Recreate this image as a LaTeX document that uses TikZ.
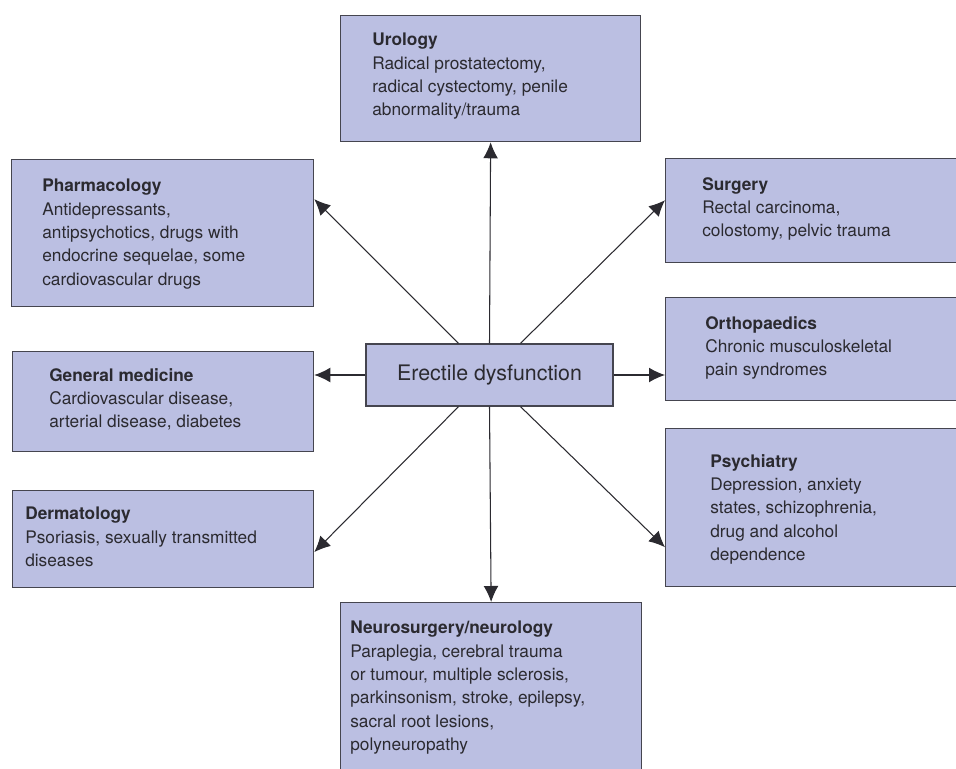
\documentclass[tikz,border=0pt]{standalone}
\usepackage{fontspec}
\setmainfont{TeX Gyre Heros}
\usetikzlibrary{arrows.meta, positioning, calc}
\definecolor{BoxFill}{HTML}{BBBFE2}
\definecolor{BoxLine}{HTML}{45454F}
\definecolor{InkDark}{HTML}{2B2A30}

\begin{document}
\begin{tikzpicture}[every node/.style={text=InkDark},
    field/.style={draw=BoxLine, line width=0.9pt, fill=BoxFill, anchor=north west, inner sep=0pt},
    fieldtext/.style={inner sep=0pt, align=left, font=\fontsize{12.3}{16.6}\selectfont},
    link/.style={-{Latex[length=0.4cm, width=0.37cm]}, line width=0.75pt, draw=InkDark}]
                \useasboundingbox (0,0) rectangle (23.9,-19.225);
                \clip (0,0) rectangle (23.9,-19.225);

                % centre
                \node[draw=BoxLine, line width=0.9pt, fill=BoxFill, minimum width=6.175cm, minimum height=1.55cm, font=\fontsize{15.2}{18}\selectfont] (ed) at (12.2375,-9.375) {Erectile dysfunction};

                % boxes round it
                \node[field, minimum width=7.5cm, minimum height=3.15cm] (uro) at (8.5,-0.375) {};
                \node[fieldtext, below right=0.45cm and 0.8cm of uro.north west] (uro-t) {\textbf{Urology}\\Radical prostatectomy,\\radical cystectomy, penile\\abnormality/trauma};

                \node[field, minimum width=7.55cm, minimum height=3.675cm] (pharm) at (0.275,-3.975) {};
                \node[fieldtext, below right=0.5cm and 0.775cm of pharm.north west] (pharm-t) {\textbf{Pharmacology}\\Antidepressants,\\antipsychotics, drugs with\\endocrine sequelae, some\\cardiovascular drugs};

                \node[field, minimum width=7.525cm, minimum height=2.5cm] (gen) at (0.3,-8.775) {};
                \node[fieldtext, below right=0.425cm and 0.925cm of gen.north west] (gen-t) {\textbf{General medicine}\\Cardiovascular disease,\\arterial disease, diabetes};

                \node[field, minimum width=7.525cm, minimum height=2.425cm] (derm) at (0.3,-12.25) {};
                \node[fieldtext, below right=0.425cm and 0.325cm of derm.north west] (derm-t) {\textbf{Dermatology}\\Psoriasis, sexually transmitted\\diseases};

                \node[field, minimum width=7.5cm, minimum height=2.6cm] (surg) at (16.625,-3.95) {};
                \node[fieldtext, below right=0.475cm and 0.925cm of surg.north west] (surg-t) {\textbf{Surgery}\\Rectal carcinoma,\\colostomy, pelvic trauma};

                \node[field, minimum width=7.5cm, minimum height=2.575cm] (ortho) at (16.625,-7.425) {};
                \node[fieldtext, below right=0.475cm and 1.0cm of ortho.north west] (ortho-t) {\textbf{Orthopaedics}\\Chronic musculoskeletal\\pain syndromes};

                \node[field, minimum width=7.5cm, minimum height=3.95cm] (psych) at (16.625,-10.7) {};
                \node[fieldtext, below right=0.65cm and 1.125cm of psych.north west] (psych-t) {\textbf{Psychiatry}\\Depression, anxiety\\states, schizophrenia,\\drug and alcohol\\dependence};

                \node[field, minimum width=7.525cm, minimum height=5cm] (neuro) at (8.5,-15.05) {};
                \node[fieldtext, below right=0.475cm and 0.25cm of neuro.north west] (neuro-t) {\textbf{Neurosurgery/neurology}\\Paraplegia, cerebral trauma\\or tumour, multiple sclerosis,\\parkinsonism, stroke, epilepsy,\\sacral root lesions,\\polyneuropathy};

                % Arrows
                \coordinate (ed-nl) at ($(ed.north)+(-0.775,0)$);
                \coordinate (ed-nr) at ($(ed.north)+(0.775,0)$);
                \coordinate (ed-sl) at ($(ed.south)+(-0.775,0)$);
                \coordinate (ed-sr) at ($(ed.south)+(0.775,0)$);
                \draw[link] (ed.north) -- (uro.south);
                \draw[link] (ed.south) -- (neuro.north);
                \draw[link] (ed.west) -- (ed.west -| gen.east);
                \draw[link] (ed.east) -- (ed.east -| ortho.west);
                \draw[link] (ed-nl) -- ($(pharm.east)+(0,0.85)$);
                \draw[link] (ed-sl) -- ($(derm.east)+(0,-0.325)$);
                \draw[link] (ed-nr) -- ($(surg.west)+(0,0.26)$);
                \draw[link] (ed-sr) -- ($(psych.west)+(0,-0.99)$);
            \end{tikzpicture}
\end{document}
